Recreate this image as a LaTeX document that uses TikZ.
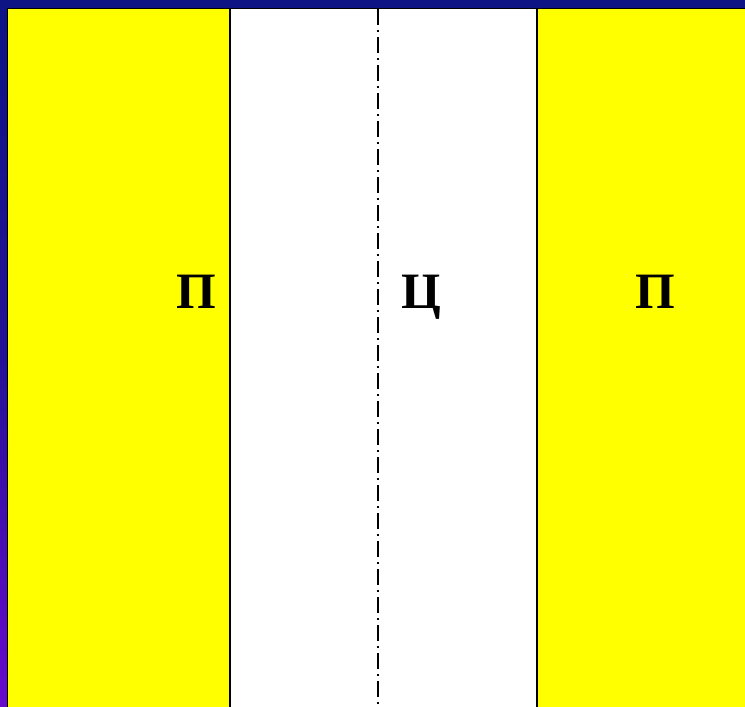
\documentclass[tikz,border=0pt]{standalone}
\usepackage{fontspec}
\setmainfont{Liberation Serif}
\usetikzlibrary{positioning}
\definecolor{frameblue}{RGB}{14,20,132}
\definecolor{framepurple}{RGB}{104,10,204}
\definecolor{zoneyellow}{RGB}{255,255,0}

\begin{document}
\begin{tikzpicture}[
    x=1pt, y=-1pt,
    zone/.style={draw=black, line width=1.5pt, fill=zoneyellow},
    core/.style={draw=black, line width=1.5pt, fill=white},
    axisline/.style={black, line width=1.5pt, dash pattern=on 16pt off 5pt on 2pt off 5pt},
    letter/.style={font=\fontsize{51}{51}\selectfont\bfseries, inner sep=0pt, anchor=base}
]
\useasboundingbox (0,0) rectangle (745,707);
\clip (0,0) rectangle (745,707);
% frame
\fill[frameblue] (0,0) rectangle (745,707);
\shade[top color=frameblue, bottom color=framepurple, middle color=frameblue!75!framepurple] (0,9) rectangle (8,707);
% strips
\draw[zone] (7.5,8.5) rectangle (230,720);
\draw[core] (230,8.5) rectangle (537,720);
\draw[zone] (537,8.5) rectangle (760,720);
\draw[axisline] (378,9) -- (378,707);
% labels
\node[letter] (pl) at (196,308) {П};
\node[letter] (ce) at (421,308) {Ц};
\node[letter] (pr) at (655,308) {П};
\end{tikzpicture}
\end{document}
